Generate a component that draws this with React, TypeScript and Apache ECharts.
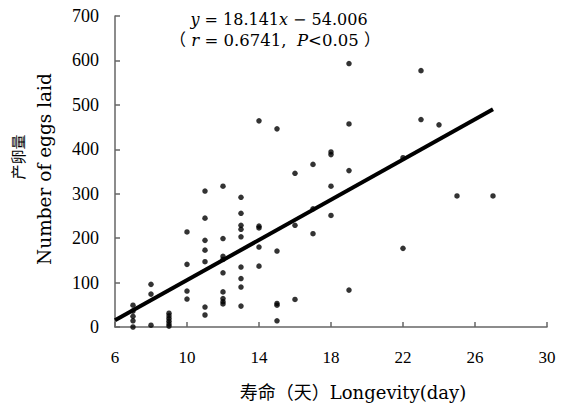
import React, { useEffect, useRef } from "react";
import * as echarts from "echarts";

// Longevity (day) and number of eggs laid
const longevity = [
  7, 7, 7, 7, 7,
  8, 8, 8,
  9, 9, 9, 9, 9, 9,
  10, 10, 10, 10,
  11, 11, 11, 11, 11, 11, 11,
  12, 12, 12, 12, 12, 12, 12, 12, 12,
  13, 13, 13, 13, 13, 13, 13, 13, 13,
  14, 14, 14, 14, 14,
  15, 15, 15, 15, 15,
  16, 16, 16,
  17, 17, 17,
  18, 18, 18, 18,
  19, 19, 19, 19,
  22, 22,
  23, 23,
  24,
  25,
  27,
];
const eggs = [
  49, 36, 24, 14, 0,
  96, 74, 4,
  31, 25, 19, 13, 7, 2,
  214, 141, 81, 63,
  306, 245, 195, 173, 147, 45, 27,
  317, 199, 159, 152, 122, 79, 64, 57, 52,
  292, 256, 229, 220, 203, 135, 109, 90, 47,
  464, 227, 223, 180, 137,
  446, 171, 53, 49, 14,
  346, 229, 62,
  366, 266, 210,
  394, 388, 317, 251,
  593, 457, 352, 83,
  381, 177,
  577, 467,
  455,
  295,
  295,
];
// Regression line end points as drawn
const fitX = [6, 27];
const fitY = [15, 490];

const xTicks = { min: 6, max: 30, interval: 4 };
const yTicks = { min: 0, max: 700, interval: 100 };

const SERIF = "'Liberation Serif', 'DejaVu Serif', 'Noto Sans CJK SC', serif";
const WIDE = "'DejaVu Serif', 'Liberation Serif', 'Noto Sans CJK SC', serif";

export default function App() {
  const ref = useRef<HTMLDivElement>(null);
  useEffect(() => {
    document.body.style.margin = "0";
    const chart = echarts.init(ref.current!, null, { renderer: "svg" });
    const points = longevity.map((x, i) => [x, eggs[i]]);
    const fit = fitX.map((x, i) => [x, fitY[i]]);
    const axisCommon = {
      axisLine: { show: true, lineStyle: { color: "#666", width: 1.5 } },
      axisTick: { show: true, inside: true, length: 5, lineStyle: { color: "#666", width: 1.5 } },
      splitLine: { show: false },
    };
    chart.setOption({
      animation: false,
      backgroundColor: "#fff",
      grid: { left: 115, right: 22, top: 16, bottom: 78, containLabel: false },
      xAxis: {
        type: "value",
        ...xTicks,
        ...axisCommon,
        axisLabel: { color: "#000", fontSize: 17, fontFamily: SERIF, margin: 22 },
      },
      yAxis: {
        type: "value",
        ...yTicks,
        ...axisCommon,
        axisLabel: { color: "#000", fontSize: 18, fontFamily: SERIF, margin: 16 },
      },
      graphic: [
        {
          type: "text",
          x: 279,
          y: 19,
          style: {
            text: "{i|y} = 18.141{i|x} − 54.006",
            fontSize: 16,
            fontFamily: WIDE,
            fill: "#000",
            align: "center",
            verticalAlign: "middle",
            rich: { i: { fontStyle: "italic", fontSize: 16, fontFamily: WIDE } },
          },
        },
        {
          type: "text",
          x: 275,
          y: 40,
          style: {
            text: "（ {i|r} = 0.6741,  {i|P}<0.05 ）",
            fontSize: 16.5,
            fontFamily: WIDE,
            fill: "#000",
            align: "center",
            verticalAlign: "middle",
            rich: { i: { fontStyle: "italic", fontSize: 16.5, fontFamily: WIDE } },
          },
        },
        {
          type: "text",
          x: 353,
          y: 392,
          style: {
            text: "寿命（天）Longevity(day)",
            fontSize: 18,
            fontFamily: WIDE,
            fill: "#000",
            align: "center",
            verticalAlign: "middle",
          },
        },
        {
          type: "text",
          x: 19,
          y: 157,
          rotation: Math.PI / 2,
          style: {
            text: "产卵量",
            fontSize: 15,
            fontFamily: WIDE,
            fill: "#000",
            align: "center",
            verticalAlign: "middle",
          },
        },
        {
          type: "text",
          x: 44,
          y: 169,
          rotation: Math.PI / 2,
          style: {
            text: "Number of eggs laid",
            fontSize: 18.5,
            fontFamily: WIDE,
            fill: "#000",
            align: "center",
            verticalAlign: "middle",
          },
        },
      ],
      series: [
        {
          type: "scatter",
          data: points,
          symbol: "circle",
          symbolSize: 5.5,
          itemStyle: { color: "#000" },
          z: 3,
        },
        {
          type: "line",
          data: fit,
          showSymbol: false,
          symbol: "none",
          lineStyle: { color: "#000", width: 4 },
          z: 2,
        },
      ],
    });
    return () => chart.dispose();
  }, []);
  return <div ref={ref} style={{ width: 569, height: 405 }} />;
}
